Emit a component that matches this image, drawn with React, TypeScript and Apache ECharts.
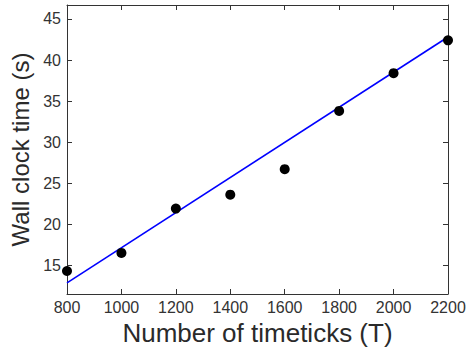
import React, { useEffect, useRef } from "react";
import * as echarts from "echarts";

const timeticks = [800, 1000, 1200, 1400, 1600, 1800, 2000, 2200];
const wallTime = [14.3, 16.5, 21.9, 23.6, 26.7, 33.8, 38.4, 42.4];
const fitX = [800, 2200];
const fitY = [12.85, 42.8];
const yTicks = [15, 20, 25, 30, 35, 40, 45];

const FONT = "Liberation Sans, Arial, Helvetica, sans-serif";

export default function App() {
  const ref = useRef<HTMLDivElement>(null);
  useEffect(() => {
    if (!ref.current) return;
    const chart = echarts.init(ref.current, undefined, { renderer: "svg" });
    const axisLine = { show: true, lineStyle: { color: "#333", width: 1 } };
    const tick = { show: true, inside: true, length: 5, lineStyle: { color: "#333", width: 1 } };
    chart.setOption({
      animation: false,
      backgroundColor: "#fff",
      grid: { left: 67, right: 18, top: 5, bottom: 55, outerBoundsMode: "none", containLabel: false },
      xAxis: [
        {
          type: "value",
          min: 800,
          max: 2200,
          interval: 200,
          name: "Number of timeticks (T)",
          nameLocation: "middle",
          nameGap: 26,
          nameTextStyle: { fontSize: 26, color: "#2a2a2a", fontFamily: FONT },
          axisLine,
          axisTick: tick,
          axisLabel: {
            fontSize: 16,
            color: "#333",
            fontFamily: FONT,
            margin: 5,
            formatter: (v: number) => String(v),
          },
          splitLine: { show: false },
        },
        {
          type: "value",
          position: "top",
          min: 800,
          max: 2200,
          interval: 200,
          axisLine,
          axisTick: tick,
          axisLabel: { show: false },
          splitLine: { show: false },
        },
      ],
      yAxis: [
        {
          type: "value",
          min: 11.5,
          max: 46.7,
          name: "Wall clock time (s)",
          nameLocation: "middle",
          nameGap: 32,
          nameTextStyle: { fontSize: 24, color: "#2a2a2a", fontFamily: FONT },
          axisLine,
          axisTick: { ...tick, customValues: yTicks },
          axisLabel: { fontSize: 16, color: "#333", fontFamily: FONT, margin: 6, customValues: yTicks },
          splitLine: { show: false },
        },
        {
          type: "value",
          position: "right",
          min: 11.5,
          max: 46.7,
          axisLine,
          axisTick: { ...tick, customValues: yTicks },
          axisLabel: { show: false, customValues: yTicks },
          splitLine: { show: false },
        },
      ],
      series: [
        {
          type: "line",
          data: fitX.map((x, i) => [x, fitY[i]]),
          showSymbol: false,
          symbol: "none",
          lineStyle: { color: "#0000ff", width: 1.6 },
          z: 2,
        },
        {
          type: "scatter",
          data: timeticks.map((x, i) => [x, wallTime[i]]),
          symbol: "circle",
          symbolSize: 10,
          itemStyle: { color: "#000", opacity: 1 },
          z: 3,
        },
      ],
    });
    return () => chart.dispose();
  }, []);
  return <div ref={ref} style={{ width: 466, height: 349, position: "absolute", left: 0, top: 0 }} />;
}
